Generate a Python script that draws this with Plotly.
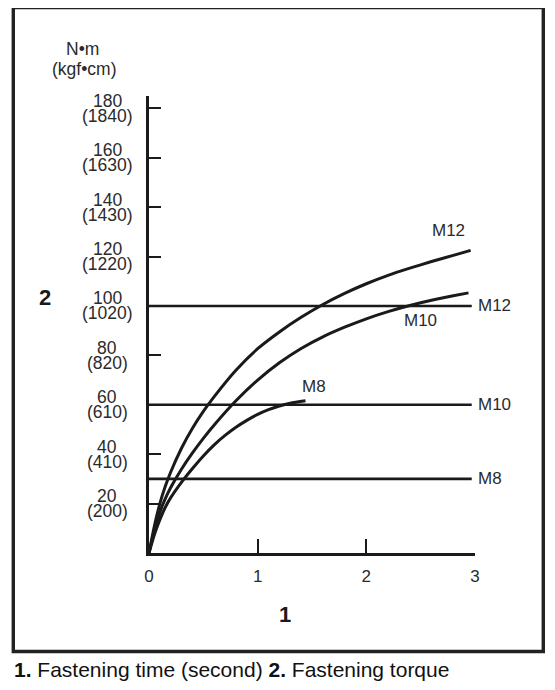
import plotly.graph_objects as go

# torque curves (time in s, torque in N·m)
m12_time = [0, 0.05, 0.10, 0.15, 0.20, 0.30, 0.40, 0.50, 0.60, 0.80, 1.0, 1.2, 1.4, 1.6, 1.8, 2.0, 2.2, 2.4,
            2.6, 2.8, 2.96]
m12_torque = [0, 11, 20, 27, 32.8, 42.5, 50.5, 57.3, 63.3, 74, 82.7, 89.5, 95.4, 100.6, 105.1, 109, 112.4,
              115.3, 118, 120.5, 122.5]

m10_time = [0, 0.05, 0.10, 0.15, 0.20, 0.30, 0.40, 0.50, 0.60, 0.80, 1.0, 1.2, 1.4, 1.6, 1.8, 2.0, 2.2, 2.4,
            2.6, 2.8, 2.94]
m10_torque = [0, 9.5, 16.5, 22, 26.5, 34, 40.5, 46.4, 51.8, 61.6, 70, 77, 82.8, 87.5, 91.4, 94.8, 97.7, 100.2,
              102.3, 104.1, 105.3]

m8_time = [0, 0.05, 0.10, 0.15, 0.20, 0.30, 0.40, 0.50, 0.60, 0.70, 0.80, 0.90, 1.0, 1.1, 1.2, 1.3, 1.44]
m8_torque = [0, 7.5, 13.5, 18.5, 22.4, 28.7, 34.2, 39.3, 43.8, 47.6, 50.9, 53.7, 56.1, 58.0, 59.5, 60.6, 61.6]

# specified torque per bolt size
limit_sizes = ["M12", "M10", "M8"]
limit_torque = [100, 60, 30]
limit_time = [0, 2.97]

# axis ticks
time_ticks = [0, 1, 2, 3]
torque_nm = [20, 40, 60, 80, 100, 120, 140, 160, 180]
torque_kgfcm = [200, 410, 610, 820, 1020, 1220, 1430, 1630, 1840]

ink = "#1a1a1a"
txt = "#2b2b2b"
fnt = "Liberation Sans, Arial, sans-serif"

fig = go.Figure()

for t, q in [(m12_time, m12_torque), (m10_time, m10_torque), (m8_time, m8_torque)]:
    fig.add_trace(go.Scatter(x=t, y=q, mode="lines", line=dict(color=ink, width=3, shape="spline", smoothing=0.7),
                             cliponaxis=False, hoverinfo="skip"))

for size, q in zip(limit_sizes, limit_torque):
    fig.add_trace(go.Scatter(x=limit_time, y=[q, q], mode="lines", line=dict(color=ink, width=2.6),
                             cliponaxis=False, hoverinfo="skip"))
    fig.add_annotation(x=limit_time[1], y=q, text=size, showarrow=False, xanchor="left", yanchor="middle",
                       xshift=4, font=dict(size=17, color=txt, family=fnt))

# curve labels
fig.add_annotation(x=2.76, y=130.6, text="M12", showarrow=False, xanchor="center", yanchor="middle",
                   font=dict(size=17, color=txt, family=fnt))
fig.add_annotation(x=2.5, y=94, text="M10", showarrow=False, xanchor="center", yanchor="middle",
                   font=dict(size=17, color=txt, family=fnt))
fig.add_annotation(x=1.52, y=67.3, text="M8", showarrow=False, xanchor="center", yanchor="middle",
                   font=dict(size=17, color=txt, family=fnt))

# two-line y tick labels
for nm, kgf in zip(torque_nm, torque_kgfcm):
    fig.add_annotation(x=0, y=nm, text=str(nm), showarrow=False, xanchor="center", yanchor="middle",
                       xshift=-42, yshift=7.5, borderpad=0, font=dict(size=17.5, color=txt, family=fnt))
    fig.add_annotation(x=0, y=nm, text="(%d)" % kgf, showarrow=False, xanchor="center", yanchor="middle",
                       xshift=-42, yshift=-7.5, borderpad=0, font=dict(size=17.5, color=txt, family=fnt))

# units, axis numbers and caption
fig.add_annotation(xref="paper", yref="paper", x=-0.2025, y=1.103, text="N•m", showarrow=False,
                   xanchor="center", yanchor="middle", font=dict(size=17.5, color=txt, family=fnt))
fig.add_annotation(xref="paper", yref="paper", x=-0.2, y=1.059, text="(kgf•cm)", showarrow=False,
                   xanchor="center", yanchor="middle", font=dict(size=17.5, color=txt, family=fnt))
fig.add_annotation(xref="paper", yref="paper", x=-0.319, y=0.560, text="<b>2</b>", showarrow=False,
                   xanchor="center", yanchor="middle", font=dict(size=22, color=ink, family=fnt))
fig.add_annotation(xref="paper", yref="paper", x=0.417, y=-0.1335, text="<b>1</b>", showarrow=False,
                   xanchor="center", yanchor="middle", font=dict(size=22, color=ink, family=fnt))
fig.add_annotation(xref="paper", yref="paper", x=-0.421, y=-0.256, xanchor="left", yanchor="middle",
                   text="<b>1.</b> Fastening time (second) <b>2.</b> Fastening torque", showarrow=False,
                   font=dict(size=21, color="#111111", family=fnt))

# frame around the figure
fig.add_shape(type="rect", xref="paper", yref="paper", x0=(13.3 - 149) / 326, x1=(543.3 - 149) / 326,
              y0=(553 - 651.5) / 457, y1=(553 - 7.5) / 457, line=dict(color="#222222", width=3.4))

fig.update_xaxes(range=[0, 3], tickvals=time_ticks, ticktext=[str(v) for v in time_ticks],
                 ticks="inside", ticklen=14, tickwidth=2.4, tickcolor=ink,
                 showline=True, linewidth=2.6, linecolor=ink, showgrid=False, zeroline=False,
                 tickfont=dict(size=17, color=txt, family=fnt), ticklabelstandoff=6)
fig.update_yaxes(range=[0, 185], tickvals=torque_nm, ticks="inside", ticklen=12, tickwidth=2.4, tickcolor=ink,
                 showticklabels=False, showline=True, linewidth=2.6, linecolor=ink, showgrid=False, zeroline=False)

# page body keeps its default 8px margin, so the figure is 8px smaller and shifted
fig.update_layout(width=547, height=682, margin=dict(l=141, r=80, t=88, b=137),
                  plot_bgcolor="white", paper_bgcolor="white", showlegend=False,
                  font=dict(family=fnt))

fig.write_html("out.html")
